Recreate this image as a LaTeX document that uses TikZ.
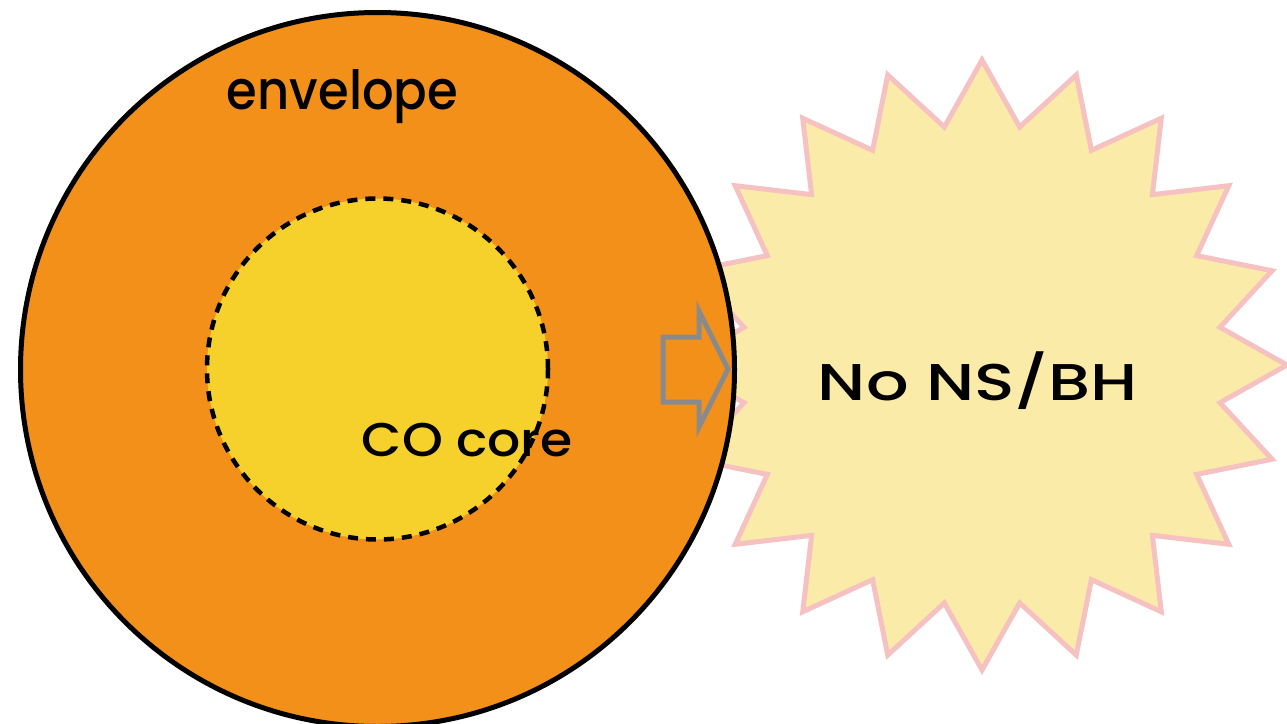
\documentclass[tikz,border=0pt]{standalone}
\usepackage{fontspec}
\setmainfont{Poppins}
\newfontfamily\handfont{Poppins Medium}
\usetikzlibrary{shapes.geometric}

\definecolor{envorange}{RGB}{243,144,26}
\definecolor{corefill}{RGB}{246,209,43}
\definecolor{burstfill}{RGB}{251,235,168}
\definecolor{burstpink}{RGB}{245,193,193}
\definecolor{arrowgray}{RGB}{138,138,140}

% fit a word into a given width, with the height of one of its letters
\newcommand{\fitword}[4]{%
  \resizebox{#1}{#2}{\raisebox{0pt}[\fontcharht\font`#3][0pt]{#4}}}

\tikzset{
  hand/.style={inner sep=0pt, anchor=base, text=black, font=\handfont},
  shell/.style={circle, inner sep=0pt, draw=black, line width=5pt},
}

\begin{document}
\begin{tikzpicture}[x=1pt,y=-1pt]
  \useasboundingbox (0,0) rectangle (1287,723);
  \clip (0,0) rectangle (1287,723);

  % explosion behind the star
  \node[star, star points=20, star point ratio=1.266, minimum size=610pt,
        inner sep=0pt, draw=burstpink, fill=burstfill, line width=5pt]
        (burst) at (982,365) {};

  % star: envelope and core
  \node[shell, fill=envorange, minimum size=714pt] (envelope) at (377.5,369.5) {};
  \node[shell, fill=corefill, line width=4.5pt, dash pattern=on 10pt off 8pt,
        minimum size=341pt] (core) at (377.5,369) {};

  % outward block arrow
  \draw[arrowgray, line width=5pt, miter limit=10]
    (663,337) -- (699,337) -- (699,311) -- (728,369) -- (699,427)
    -- (699,402) -- (663,402) -- cycle;

  % labels
  \node[hand] (envlabel) at (342.5,109) {\fitword{231pt}{40pt}{l}{envelope}};
  \node[hand] (corelabel) at (467.5,456) {\fitword{211pt}{33pt}{O}{CO core}};
  \node[hand] (nsbh) at (978,400) {\fitword{320pt}{36pt}{N}{No NS/BH}};
\end{tikzpicture}
\end{document}
